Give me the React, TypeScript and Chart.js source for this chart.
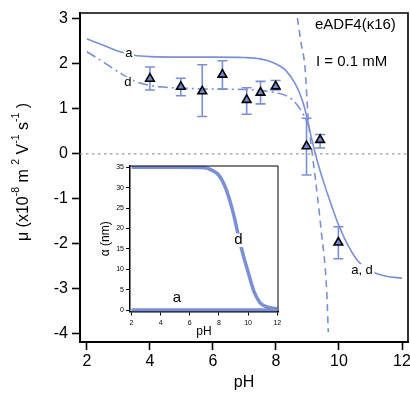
import React, { useEffect, useRef } from "react";
import { Chart, registerables } from "chart.js";

Chart.register(...registerables);

// ---- main panel: electrophoretic mobility vs pH ----
const samplePH = [4.0, 4.98, 5.66, 6.3, 7.07, 7.51, 7.99, 8.97, 9.4, 9.98];
const sampleMu = [1.67, 1.49, 1.39, 1.76, 1.2, 1.36, 1.5, 0.17, 0.31, -1.97];
const sampleUpper = [1.93, 1.68, 1.98, 2.07, 1.47, 1.61, 1.63, 0.79, 0.43, -1.62];
const sampleLower = [1.42, 1.29, 0.83, 1.44, 0.88, 1.11, 1.42, -0.47, 0.13, -2.33];

const modelA_pH = [2, 2.5, 3, 3.5, 4, 5, 6, 7, 7.5, 7.9, 8.3, 8.6, 8.83, 8.98, 9.14, 9.3, 9.5, 9.7, 10.0, 10.3, 10.6, 11.0, 11.5, 12];
const modelA_mu = [2.55, 2.42, 2.28, 2.19, 2.16, 2.15, 2.15, 2.14, 2.11, 2.03, 1.86, 1.57, 1.2, 0.82, 0.31, -0.13, -0.6, -1.02, -1.6, -2.05, -2.38, -2.6, -2.72, -2.76];

const modelD_pH = [2, 2.5, 3, 3.5, 4, 4.5, 5, 6, 7, 7.5, 8, 8.3, 8.6, 8.85, 9.05];
const modelD_mu = [2.27, 2.05, 1.82, 1.62, 1.52, 1.48, 1.46, 1.44, 1.43, 1.41, 1.36, 1.3, 1.15, 0.9, 0.6];

const steep_pH = [8.68, 8.8, 8.92, 9.02, 9.17, 9.33, 9.45, 9.56, 9.62, 9.66];
const steep_mu = [3.02, 2.45, 1.93, 0.82, -0.1, -1.02, -1.8, -2.51, -3.2, -3.96];

const xTicks = [2, 4, 6, 8, 10, 12];
const yTicks = [-4, -3, -2, -1, 0, 1, 2, 3];

// ---- inset: alpha vs pH ----
const insetD_pH = [2, 5, 7, 7.5, 8, 8.5, 9, 9.4, 9.7, 10, 10.4, 10.8, 11.2, 11.6, 12];
const insetD_alpha = [35, 35, 34.9, 34.3, 33, 29.5, 23.5, 17.2, 13, 9.3, 4.6, 1.9, 0.9, 0.5, 0.3];
const insetA_pH = [2, 12];
const insetA_alpha = [0, 0];
const insetXTicks = [2, 4, 6, 8, 10, 12];
const insetYTicks = [0, 5, 10, 15, 20, 25, 30, 35];

const BLUE = "#7b8fd6";
const FILL = "#7287cf";
const FONT = "'Liberation Sans', Arial, sans-serif";

const pts = (xs: number[], ys: number[]) => xs.map((x, i) => ({ x, y: ys[i] }));

// keep the plot area where the layout puts it: no extra room for edge labels
const zeroPad = () => ({ left: 0, top: 0, right: 0, bottom: 0 });
const noEdgePadding = (s: any) => {
  s.paddingLeft = 0;
  s.paddingRight = 0;
  s.paddingTop = 0;
  s.paddingBottom = 0;
  s.getPadding = zeroPad;
};

function labelWithBg(ctx: CanvasRenderingContext2D, text: string, x: number, y: number, size: number) {
  ctx.font = `${size}px ${FONT}`;
  const w = ctx.measureText(text).width;
  ctx.fillStyle = "#fff";
  ctx.fillRect(x - w / 2 - 1.5, y - size * 0.45, w + 3, size * 0.9);
  ctx.fillStyle = "#000";
  ctx.textAlign = "center";
  ctx.textBaseline = "middle";
  ctx.fillText(text, x, y);
}

const mainPlugin = {
  id: "mainDecor",
  beforeDatasetDraw(chart: any, args: any) {
    if (args.index !== 0) return;
    const { ctx } = chart;
    const x = chart.scales.x;
    const y = chart.scales.y;
    ctx.save();
    ctx.strokeStyle = BLUE;
    ctx.lineWidth = 1.6;
    samplePH.forEach((p, i) => {
      const px = x.getPixelForValue(p);
      const top = y.getPixelForValue(sampleUpper[i]);
      const bot = y.getPixelForValue(sampleLower[i]);
      ctx.beginPath();
      ctx.moveTo(px, top);
      ctx.lineTo(px, bot);
      ctx.moveTo(px - 5, top);
      ctx.lineTo(px + 5, top);
      ctx.moveTo(px - 5, bot);
      ctx.lineTo(px + 5, bot);
      ctx.stroke();
    });
    ctx.restore();
  },
  afterDatasetsDraw(chart: any) {
    const { ctx, chartArea } = chart;
    const x = chart.scales.x;
    const y = chart.scales.y;
    ctx.save();
    labelWithBg(ctx, "a", x.getPixelForValue(3.33), y.getPixelForValue(2.24), 13);
    labelWithBg(ctx, "d", x.getPixelForValue(3.3), y.getPixelForValue(1.58), 13);
    labelWithBg(ctx, "a, d", x.getPixelForValue(10.73), y.getPixelForValue(-2.58), 13);
    ctx.font = `15px ${FONT}`;
    ctx.fillStyle = "#000";
    ctx.textAlign = "left";
    ctx.textBaseline = "middle";
    ctx.fillText("eADF4(\u03BA16)", chartArea.left + 235, chartArea.top + 12);
    ctx.fillText("I = 0.1 mM", chartArea.left + 236, chartArea.top + 49);
    ctx.restore();
  },
  afterDraw(chart: any) {
    const { ctx, chartArea } = chart;
    ctx.save();
    ctx.strokeStyle = "#000";
    ctx.lineWidth = 1.6;
    ctx.beginPath();
    ctx.moveTo(chartArea.left, chartArea.top);
    ctx.lineTo(chartArea.right, chartArea.top);
    ctx.lineTo(chartArea.right, chartArea.bottom);
    ctx.stroke();

    // y-axis title with superscripts
    const parts: [string, boolean][] = [
      ["\u03BC (x10", false],
      ["-8", true],
      [" m ", false],
      ["2", true],
      [" V", false],
      ["-1", true],
      [" s", false],
      ["-1", true],
      [" )", false],
    ];
    const big = `16px ${FONT}`;
    const small = `10.5px ${FONT}`;
    let total = 0;
    parts.forEach(([t, sup]) => {
      ctx.font = sup ? small : big;
      total += ctx.measureText(t).width;
    });
    ctx.translate(24, 172);
    ctx.rotate(-Math.PI / 2);
    ctx.fillStyle = "#000";
    ctx.textAlign = "left";
    ctx.textBaseline = "middle";
    let cx = -total / 2;
    parts.forEach(([t, sup]) => {
      ctx.font = sup ? small : big;
      ctx.fillText(t, cx, sup ? -8 : 0);
      cx += ctx.measureText(t).width;
    });
    ctx.restore();
  },
};

const insetPlugin = {
  id: "insetDecor",
  beforeDraw(chart: any) {
    const { ctx, chartArea } = chart;
    ctx.save();
    ctx.fillStyle = "#fff";
    ctx.fillRect(chartArea.left, chartArea.top, chartArea.right - chartArea.left, chartArea.bottom - chartArea.top);
    ctx.restore();
  },
  afterDatasetsDraw(chart: any) {
    const { ctx } = chart;
    const x = chart.scales.x;
    const y = chart.scales.y;
    ctx.save();
    labelWithBg(ctx, "d", x.getPixelForValue(9.33), y.getPixelForValue(17.1), 15);
    ctx.font = `15px ${FONT}`;
    ctx.fillStyle = "#000";
    ctx.textAlign = "center";
    ctx.textBaseline = "middle";
    ctx.fillText("a", x.getPixelForValue(5.12), y.getPixelForValue(3.0));
    ctx.restore();
  },
  afterDraw(chart: any) {
    const { ctx, chartArea } = chart;
    ctx.save();
    ctx.strokeStyle = "#000";
    ctx.lineWidth = 1;
    ctx.beginPath();
    ctx.moveTo(chartArea.left, chartArea.top);
    ctx.lineTo(chartArea.right, chartArea.top);
    ctx.lineTo(chartArea.right, chartArea.bottom);
    ctx.stroke();
    ctx.restore();
  },
};

export default function App() {
  const mainRef = useRef<HTMLCanvasElement | null>(null);
  const insetRef = useRef<HTMLCanvasElement | null>(null);

  useEffect(() => {
    if (!mainRef.current || !insetRef.current) return;

    const main = new Chart(mainRef.current, {
      type: "scatter",
      data: {
        datasets: [
          {
            data: pts(samplePH, sampleMu),
            pointStyle: "triangle",
            pointRadius: 5,
            backgroundColor: FILL,
            borderColor: "#000",
            borderWidth: 1.6,
            showLine: false,
            order: 0,
          },
          {
            data: pts(modelA_pH, modelA_mu),
            showLine: true,
            borderColor: BLUE,
            borderWidth: 1.6,
            pointRadius: 0,
            cubicInterpolationMode: "monotone",
            order: 2,
          },
          {
            data: pts(modelD_pH, modelD_mu),
            showLine: true,
            borderColor: BLUE,
            borderWidth: 1.6,
            borderDash: [10, 4, 2, 4],
            pointRadius: 0,
            cubicInterpolationMode: "monotone",
            order: 3,
          },
          {
            data: pts(steep_pH, steep_mu),
            showLine: true,
            borderColor: BLUE,
            borderWidth: 1.6,
            borderDash: [7, 5],
            pointRadius: 0,
            cubicInterpolationMode: "monotone",
            order: 4,
          },
          {
            data: pts([1.78, 12.19], [0, 0]),
            showLine: true,
            borderColor: "#999",
            borderWidth: 1.3,
            borderDash: [2.5, 3.5],
            pointRadius: 0,
            order: 5,
          },
        ] as any,
      },
      options: {
        animation: false,
        responsive: false,
        devicePixelRatio: 1,
        events: [],
        layout: { autoPadding: false, padding: { top: 13, right: 2, left: 0, bottom: 0 } },
        plugins: { legend: { display: false }, tooltip: { enabled: false } },
        scales: {
          x: {
            type: "linear",
            min: 1.78,
            max: 12.19,
            afterBuildTicks: (s: any) => {
              s.ticks = xTicks.map((v) => ({ value: v }));
            },
            afterFit: (s: any) => {
              s.height = 54;
              noEdgePadding(s);
            },
            grid: { drawOnChartArea: false, tickLength: 8, tickColor: "#000", tickWidth: 1.6 },
            border: { display: true, color: "#000", width: 2 },
            ticks: {
              color: "#000",
              font: { family: FONT, size: 16 },
              padding: 2,
              maxRotation: 0,
              callback: (v: any) => String(v),
            },
            title: {
              display: true,
              text: "pH",
              color: "#000",
              font: { family: FONT, size: 16 },
              padding: { top: 0, bottom: 4 },
            },
          },
          y: {
            type: "linear",
            min: -4.18,
            max: 3.13,
            afterBuildTicks: (s: any) => {
              s.ticks = yTicks.map((v) => ({ value: v }));
            },
            afterFit: (s: any) => {
              s.width = 80;
              noEdgePadding(s);
            },
            grid: { drawOnChartArea: false, tickLength: 8, tickColor: "#000", tickWidth: 1.6 },
            border: { display: true, color: "#000", width: 2 },
            ticks: {
              color: "#000",
              font: { family: FONT, size: 16 },
              padding: 4,
              callback: (v: any) => String(v),
            },
          },
        },
      } as any,
      plugins: [mainPlugin],
    });

    const inset = new Chart(insetRef.current, {
      type: "scatter",
      data: {
        datasets: [
          {
            data: pts(insetD_pH, insetD_alpha),
            showLine: true,
            borderColor: BLUE,
            borderWidth: 3.5,
            pointRadius: 0,
            cubicInterpolationMode: "monotone",
          },
          {
            data: pts(insetA_pH, insetA_alpha),
            showLine: true,
            borderColor: BLUE,
            borderWidth: 3.5,
            pointRadius: 0,
          },
        ] as any,
      },
      options: {
        animation: false,
        responsive: false,
        devicePixelRatio: 1,
        events: [],
        layout: { autoPadding: false, padding: { top: 8, right: 7, left: 0, bottom: 0 } },
        plugins: { legend: { display: false }, tooltip: { enabled: false } },
        scales: {
          x: {
            type: "linear",
            min: 1.9,
            max: 12.05,
            afterBuildTicks: (s: any) => {
              s.ticks = insetXTicks.map((v) => ({ value: v }));
            },
            afterFit: (s: any) => {
              s.height = 28.5;
              noEdgePadding(s);
            },
            grid: { drawOnChartArea: false, tickLength: 4, tickColor: "#000", tickWidth: 1 },
            border: { display: true, color: "#000", width: 1.5 },
            ticks: {
              color: "#000",
              font: { family: FONT, size: 7 },
              padding: 3,
              maxRotation: 0,
              callback: (v: any) => String(v),
            },
            title: {
              display: true,
              text: "pH",
              color: "#000",
              font: { family: FONT, size: 12 },
              padding: { top: 0, bottom: 1 },
            },
          },
          y: {
            type: "linear",
            min: -0.35,
            max: 35.3,
            afterBuildTicks: (s: any) => {
              s.ticks = insetYTicks.map((v) => ({ value: v }));
            },
            afterFit: (s: any) => {
              s.width = 35;
              noEdgePadding(s);
            },
            grid: { drawOnChartArea: false, tickLength: 4, tickColor: "#000", tickWidth: 1 },
            border: { display: true, color: "#000", width: 1.5 },
            ticks: {
              color: "#000",
              font: { family: FONT, size: 7 },
              padding: 2,
              callback: (v: any) => String(v),
            },
            title: {
              display: true,
              text: "\u03B1 (nm)",
              color: "#000",
              font: { family: FONT, size: 12 },
              padding: { top: 3, bottom: 0 },
            },
          },
        },
      } as any,
      plugins: [insetPlugin],
    });

    return () => {
      main.destroy();
      inset.destroy();
    };
  }, []);

  return (
    <div style={{ position: "absolute", left: 0, top: 0, width: 410, height: 396, background: "#fff", overflow: "hidden" }}>
      <canvas ref={mainRef} width={410} height={396} style={{ position: "absolute", left: 0, top: 0, display: "block" }} />
      <canvas ref={insetRef} width={190} height={182} style={{ position: "absolute", left: 95, top: 158, display: "block" }} />
    </div>
  );
}
